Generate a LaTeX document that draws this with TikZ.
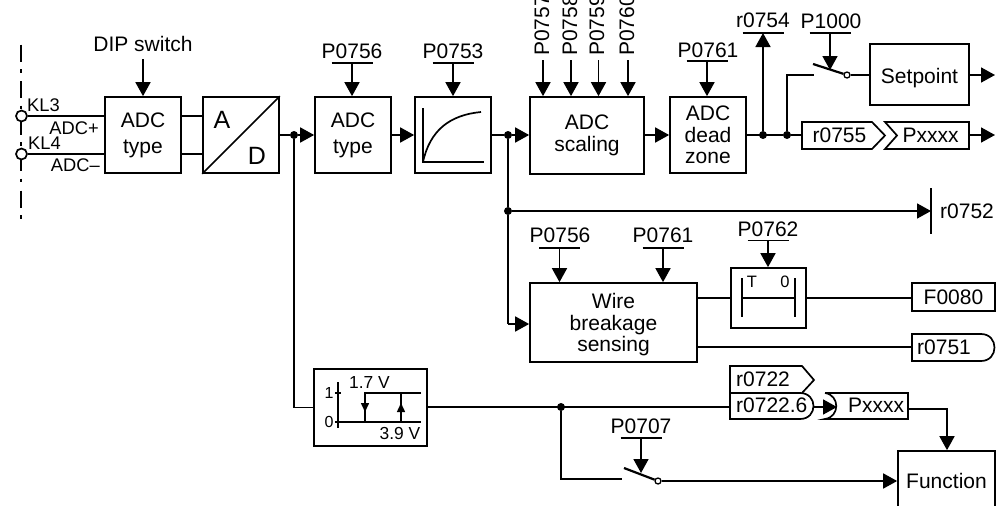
\documentclass[tikz,border=0pt]{standalone}
\usepackage{fontspec}
\setmainfont{Liberation Sans}
\usetikzlibrary{arrows.meta,calc}
\tikzset{
  wire/.style={line width=1.7pt,line join=miter},
  arr/.style={wire,-{Triangle[length=14pt,width=15pt]}},
  sarr/.style={line width=1.5pt,-{Triangle[length=9pt,width=8pt]}},
  blk/.style={draw,line width=1.7pt,inner sep=0pt,align=center,font=\fontsize{21}{21.5}\selectfont},
  lbl/.style={inner sep=0pt,font=\fontsize{21}{21.5}\selectfont},
  slbl/.style={inner sep=0pt,font=\fontsize{18.3}{20}\selectfont},
  tlbl/.style={inner sep=0pt,font=\fontsize{16.5}{18}\selectfont},
  dot/.style={circle,fill=black,inner sep=0pt,minimum size=8pt},
  term/.style={circle,draw,fill=white,line width=1.7pt,inner sep=0pt,minimum size=11pt},
  swc/.style={circle,draw,fill=white,line width=1.3pt,inner sep=0pt,minimum size=6pt},
  blade/.style={line width=2.2pt},
  barl/.style={line width=1.6pt}
}
\newcommand{\parmbar}[3]{\coordinate (#1) at (#2,#3);
  \draw[barl] ($(#1)+(-20.5,0)$) -- ($(#1)+(20.5,0)$);}
\begin{document}
\begin{tikzpicture}[x=1pt,y=-1pt]
\clip (0,0) rectangle (996,506);
\path[use as bounding box] (0,0) rectangle (996,506);
% terminal rail
\coordinate (railT) at (21,44.5);
\coordinate (railB) at (21,219);
\draw[line width=1.6pt,dash pattern=on 17pt off 7.5pt on 3.5pt off 8.5pt] (railT) -- (railB);
% blocks
\node[blk,minimum width=76pt,minimum height=76pt] (adc1) at (143,135) {ADC\\[4.5pt]type};
\node[draw,line width=1.7pt,minimum width=76pt,minimum height=76pt,inner sep=0pt] (ad) at (241,135) {};
\draw[line width=1.7pt] (ad.south west) -- (ad.north east);
\node[lbl,font=\fontsize{25}{26}\selectfont] (ada) at (222,120) {A};
\node[lbl,font=\fontsize{25}{26}\selectfont] (add) at (257,156) {D};
\node[blk,minimum width=76pt,minimum height=76pt] (adc2) at (353,135) {ADC\\[4.5pt]type};
\node[draw,line width=1.7pt,minimum width=76pt,minimum height=76pt,inner sep=0pt] (filt) at (453,135) {};
\draw[line width=1.7pt] (423,108) -- (423,162) -- (484,162);
\draw[line width=1.7pt] (423,162) .. controls (430,130) and (450,115) .. (481,112);
\node[blk,minimum width=114pt,minimum height=77pt] (scal) at (587,135.5) {ADC\\scaling};
\node[blk,minimum width=76pt,minimum height=76pt] (dead) at (708,135) {ADC\\dead\\zone};
\node[blk,minimum width=99pt,minimum height=61pt,text height=17pt,text depth=0pt] (setp) at (919.5,74.5) {Setpoint};
\node[blk,minimum width=167pt,minimum height=79pt,text depth=0pt] (wb) at (613.5,322.5) {Wire\\breakage\\sensing};
\node[draw,line width=1.7pt,minimum width=75pt,minimum height=60pt,inner sep=0pt] (tim) at (768.5,298) {};
\node[blk,minimum width=83pt,minimum height=28pt] (f80) at (953.5,297) {F0080};
\node[draw,line width=1.7pt,minimum width=113pt,minimum height=77pt,inner sep=0pt] (hyst) at (370.5,407.5) {};
\node[blk,minimum width=97pt,minimum height=69pt,text height=15pt,text depth=10pt] (func) at (946.5,485.5) {Function};
% terminals
\node[term] (t1) at (21.5,116) {};
\node[term] (t2) at (21.5,154) {};
\draw[wire] (t1) -- (t1 -| adc1.west);
\draw[wire] (t2) -- (t2 -| adc1.west);
\draw[wire] (t1 -| adc1.east) -- (t1 -| ad.west);
\draw[wire] (t2 -| adc1.east) -- (t2 -| ad.west);
\node[slbl,anchor=west] (kl3) at (27,105) {KL3};
\node[slbl,anchor=east] (ap) at (99,128) {ADC+};
\node[slbl,anchor=west] (kl4) at (28,143) {KL4};
\node[slbl,anchor=east] (am) at (100,165) {ADC–};
% top inputs
\node[lbl] (dip) at (143,44) {DIP switch};
\draw[arr] (dip.south |- 0,59) -- (dip.south |- adc1.north);
\node[lbl] (p756a) at (352,51) {P0756};
\parmbar{b756a}{352}{63}
\draw[arr] (b756a) -- (b756a |- adc2.north);
\node[lbl] (p753) at (453,51) {P0753};
\parmbar{b753}{453}{63}
\draw[arr] (b753) -- (b753 |- filt.north);
\foreach \nm/\tx/\xa/\xb in {p757/P0757/542/543,p758/P0758/570/571,p759/P0759/597/598.5,p760/P0760/627/628}{
  \node[lbl,rotate=90,anchor=west] (\nm) at (\xa,56) {\tx};
  \coordinate (\nm s) at (\xb,60);
  \draw[arr] (\nm s) -- (\nm s |- scal.north);
}
\node[lbl] (p761a) at (708,50) {P0761};
\parmbar{b761a}{707}{61}
\draw[arr] (b761a) -- (b761a |- dead.north);
% main chain
\node[dot] (d1) at (294,135) {};
\node[dot] (d2) at (508,135) {};
\node[dot] (d3) at (508,211) {};
\node[dot] (d4) at (763,135) {};
\node[dot] (d5) at (787,135) {};
\node[dot] (d6) at (561,407) {};
\draw[wire] (ad.east |- d1) -- (d1);
\draw[arr] (d1) -- (d1 -| adc2.west);
\draw[arr] (adc2.east) -- (filt.west);
\draw[wire] (filt.east |- d2) -- (d2);
\draw[arr] (d2) -- (d2 -| scal.west);
\draw[arr] (scal.east |- dead.west) -- (dead.west);
\draw[wire] (dead.east) -- (d5);
% r0754
\node[lbl] (r754) at (763,20) {r0754};
\parmbar{b754}{763}{33}
\draw[arr] (d4) -- (b754);
% P1000 switch
\node[lbl] (p1000) at (831,21) {P1000};
\parmbar{b1000}{830}{33}
\coordinate (s1a) at (814,75);
\coordinate (s1b) at (813,64);
\node[swc] (s1c) at (847,75) {};
\draw[wire] (d5) -- (d5 |- s1a) -- (s1a);
\draw[arr] (b1000) -- (830,70);
\draw[blade] (s1b) -- (s1c);
\draw[wire] (s1c) -- (s1c -| setp.west);
\coordinate (o1) at (995,75);
\draw[arr] (setp.east |- o1) -- (o1);
% r0755 Pxxxx
\coordinate (r55w) at (802,135);
\draw[wire] (d5) -- (r55w);
\draw[wire] (802,122) -- (872,122) -- (885,135.5) -- (872,149) -- (802,149) -- cycle;
\node[lbl] (r755) at (839.5,135) {r0755};
\draw[wire] (885,122) -- (969,122) -- (969,149) -- (885,149) -- (897,135.5) -- cycle;
\node[lbl] (px1) at (930.5,135) {Pxxxx};
\coordinate (px1e) at (969,135);
\coordinate (o2) at (995,135);
\draw[arr] (px1e) -- (o2);
% r0752
\coordinate (r52) at (931,211);
\draw[wire] (931,188) -- (931,234);
\node[lbl] (r752) at (967,211) {r0752};
\draw[wire] (d2) -- (d3);
\draw[arr] (d3) -- (r52);
% wire breakage
\coordinate (wbin) at (508,324);
\draw[wire] (d3) -- (wbin);
\draw[arr] (wbin) -- (wbin -| wb.west);
\node[lbl] (p756b) at (560,235) {P0756};
\parmbar{b756b}{559.5}{248}
\draw[arr] (b756b) -- (b756b |- wb.north);
\node[lbl] (p761b) at (663,235) {P0761};
\parmbar{b761b}{663}{248}
\draw[arr] (b761b) -- (b761b |- wb.north);
\node[lbl] (p762) at (768,229) {P0762};
\parmbar{b762}{768}{240.5}
\draw[arr] (b762) -- (b762 |- tim.north);
% timer
\coordinate (tl) at (742,298);
\coordinate (tr) at (795,298);
\draw[wire] (742,278) -- (742,317);
\draw[wire] (795,278) -- (795,317);
\draw[wire] (tl) -- (tr);
\node[tlbl] (tt) at (752,282) {T};
\node[tlbl] (t0) at (785,282) {0};
\coordinate (wo1) at (697,298);
\draw[wire] (wo1) -- (wo1 -| tim.west);
\draw[wire] (tim.east) -- (f80.west |- tim.east);
% r0751
\draw[wire] (912,334) -- (981,334) .. controls (999,334) and (999,361) .. (981,361) -- (912,361) -- cycle;
\node[lbl,anchor=west] (r751) at (917,347) {r0751};
\coordinate (wo2) at (697,347);
\coordinate (r51w) at (912,347);
\draw[wire] (wo2) -- (r51w);
% hysteresis
\draw[wire] (d1) -- (d1 |- hyst.west) -- (hyst.west);
\draw[line width=1.2pt] (338,382) -- (338,428);
\draw[line width=1.2pt] (335,393) -- (341,393);
\draw[line width=1.2pt] (335,422) -- (421,422);
\draw[line width=1.5pt] (421,393) -- (365,393) -- (365,422);
\draw[line width=1.5pt] (401,422) -- (401,393);
\draw[sarr] (365,400) -- (365,412);
\draw[sarr] (401,415) -- (401,403);
\node[slbl,font=\fontsize{16}{18}\selectfont] (one) at (329,393) {1};
\node[slbl,font=\fontsize{16}{18}\selectfont] (zero) at (329,422) {0};
\node[slbl,font=\fontsize{17.4}{18}\selectfont] (v17) at (369.5,383) {1.7 V};
\node[slbl,font=\fontsize{17.4}{18}\selectfont] (v39) at (400,434) {3.9 V};
\coordinate (rin) at (730,407);
\draw[wire] (hyst.east |- rin) -- (rin);
% r0722 tags
\draw[wire] (730,393) -- (730,366) -- (802,366) -- (814,380) -- (802,393);
\node[lbl,anchor=west] (r722) at (736,379) {r0722};
\draw[wire] (730,393) -- (800,393) .. controls (818,393) and (818,419) .. (800,419) -- (730,419) -- cycle;
\node[lbl,anchor=west] (r7226) at (736,405) {r0722.6};
\draw[wire] (825,393) -- (908,393) -- (908,419) -- (825,419) .. controls (840,417) and (840,395) .. (825,393);
\node[lbl] (px2) at (876,405) {Pxxxx};
\coordinate (r6e) at (814,407);
\coordinate (px2w) at (837,407);
\draw[arr] (r6e) -- (px2w);
\coordinate (px2e) at (908,409);
\draw[arr] (px2e) -- (947,409) -- (func.north -| 947,0);
% P0707 switch
\node[lbl] (p707) at (641,426) {P0707};
\parmbar{b707}{641}{438}
\coordinate (s2a) at (622,479);
\coordinate (s2b) at (624,468);
\node[swc] (s2c) at (658,481) {};
\draw[wire] (d6) -- (d6 |- s2a) -- (s2a);
\draw[arr] (b707) -- (641,473);
\draw[blade] (s2b) -- (s2c);
\draw[arr] (s2c) -- (s2c -| func.west);
\end{tikzpicture}
\end{document}
